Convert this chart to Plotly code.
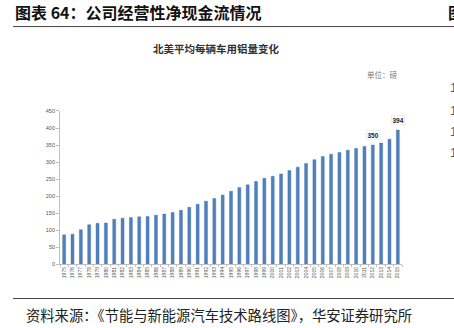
import plotly.graph_objects as go

years = [str(y) for y in range(1975, 2016)]
values = [86, 88, 101, 116, 120, 121, 132, 135, 137, 139, 140, 144, 147, 152, 158,
          167, 176, 185, 193, 203, 214, 225, 233, 243, 252, 258, 265, 275, 285, 296,
          307, 316, 323, 328, 335, 340, 346, 350, 356, 367, 394]
labeled_years = ["2012", "2015"]
y_ticks = [0, 50, 100, 150, 200, 250, 300, 350, 400, 450]

W, H = 454, 328
def px(x):
    return x / W
def py(y):
    return 1 - y / H

fig = go.Figure()
fig.add_trace(go.Bar(
    x=years, y=values, width=0.36,
    marker=dict(color="#4F81BD", line=dict(color="#3F6FAA", width=0.4)),
    hoverinfo="x+y",
))

for yr in labeled_years:
    i = years.index(yr)
    v = values[i]
    fig.add_annotation(x=i, y=v, xref="x", yref="y", text="<b>%d</b>" % v,
                       showarrow=False, yshift=10, font=dict(size=6.5, color="#222", family="Arial"),
                       bgcolor="white", bordercolor="#DDE3EA", borderwidth=0.5, borderpad=1)

fig.update_layout(
    width=W, height=H, margin=dict(l=0, r=0, t=0, b=0),
    paper_bgcolor="white", plot_bgcolor="white", showlegend=False,
    bargap=0.6,
    xaxis=dict(domain=[px(60), px(402)], type="category", range=[-0.5, 40.5],
               tickangle=-90, tickfont=dict(size=5, color="#555", family="Arial"),
               showline=True, linecolor="#BFBFBF", linewidth=0.8,
               ticks="outside", ticklen=2, tickcolor="#BFBFBF", tickson="boundaries",
               showgrid=False, fixedrange=True),
    yaxis=dict(domain=[py(266), py(110)], range=[0, 450], tickvals=y_ticks,
               tickfont=dict(size=5.5, color="#555", family="Arial"),
               showline=True, linecolor="#BFBFBF", linewidth=0.8,
               ticks="outside", ticklen=3, tickcolor="#BFBFBF",
               showgrid=False, zeroline=False, fixedrange=True),
)

cjk = "Noto Sans CJK SC"
# page header
fig.add_annotation(x=px(13), y=py(9), xref="paper", yref="paper", xanchor="left", yanchor="middle",
                   text="<b>图表 64：公司经营性净现金流情况</b>", showarrow=False,
                   font=dict(size=16, color="#111", family=cjk))
fig.add_annotation(x=px(446), y=py(9), xref="paper", yref="paper", xanchor="left", yanchor="middle",
                   text="<b>图</b>", showarrow=False, font=dict(size=16, color="#111", family=cjk))
fig.add_shape(type="line", xref="paper", yref="paper", x0=px(13), x1=1, y0=py(24), y1=py(24),
              line=dict(color="#444", width=1))
# chart title
fig.add_annotation(x=px(216), y=py(46.5), xref="paper", yref="paper", xanchor="center", yanchor="middle",
                   text="<b>北美平均每辆车用铝量变化</b>", showarrow=False,
                   font=dict(size=10.5, color="#333", family=cjk))
fig.add_annotation(x=px(400), y=py(72.5), xref="paper", yref="paper", xanchor="right", yanchor="middle",
                   text="单位：磅", showarrow=False, font=dict(size=7.5, color="#777", family=cjk))
# cut-off text from neighbouring column
for yy in [86, 109, 131, 152]:
    fig.add_annotation(x=px(448), y=py(yy), xref="paper", yref="paper", xanchor="left", yanchor="middle",
                       text="1", showarrow=False, font=dict(size=13, color="#555", family="Liberation Sans"))
# footer
fig.add_shape(type="line", xref="paper", yref="paper", x0=px(13), x1=1, y0=py(301), y1=py(301),
              line=dict(color="#444", width=1))
fig.add_annotation(x=px(24), y=py(317), xref="paper", yref="paper", xanchor="left", yanchor="middle",
                   text="资料来源：《节能与新能源汽车技术路线图》，华安证券研究所", showarrow=False,
                   font=dict(size=14.3, color="#222", family=cjk))

fig.write_html("out.html")
